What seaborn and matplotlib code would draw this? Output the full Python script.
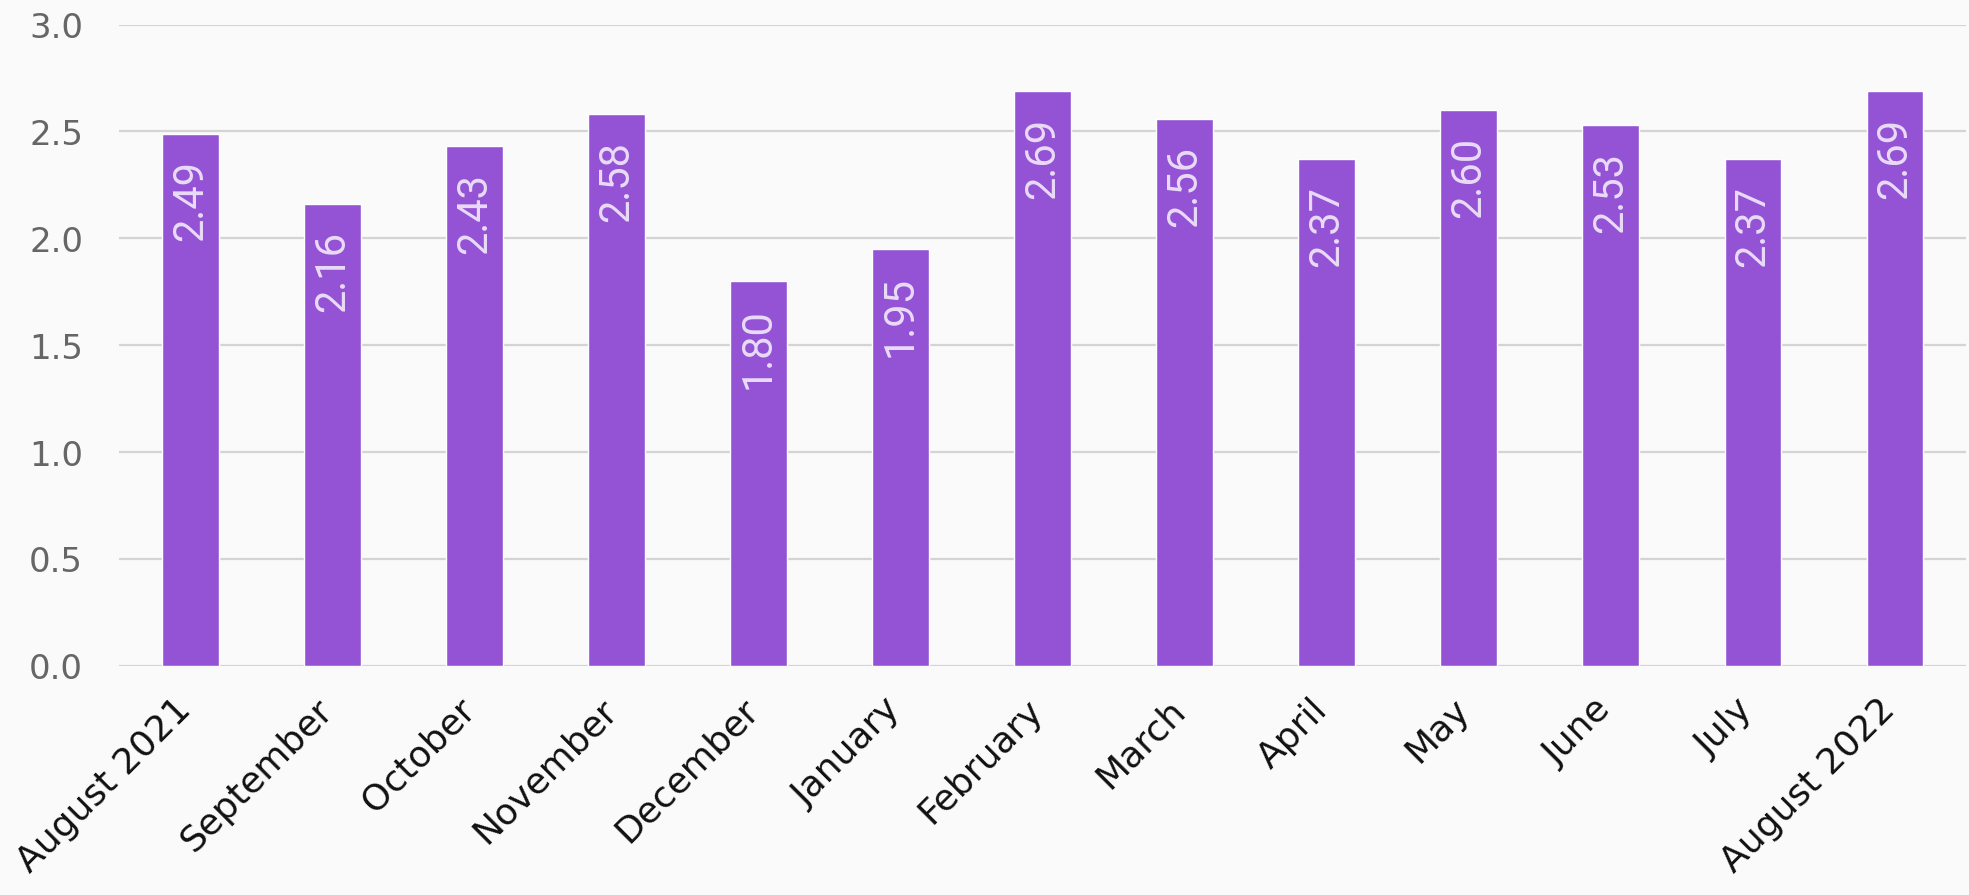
import matplotlib
matplotlib.use("Agg")
import matplotlib.pyplot as plt
from matplotlib.transforms import ScaledTranslation
import seaborn as sns
import pandas as pd

months = ["August 2021", "September", "October", "November", "December", "January",
          "February", "March", "April", "May", "June", "July", "August 2022"]
values = [2.49, 2.16, 2.43, 2.58, 1.80, 1.95, 2.69, 2.56, 2.37, 2.60, 2.53, 2.37, 2.69]
value_labels = ["2.49", "2.16", "2.43", "2.58", "1.80", "1.95", "2.69", "2.56", "2.37",
                "2.60", "2.53", "2.37", "2.69"]
y_ticks = [0.0, 0.5, 1.0, 1.5, 2.0, 2.5, 3.0]

BAR = "#9453d5"
BG = "#fafafa"

sns.set_theme(style="white")
plt.rcParams["font.family"] = ["DejaVu Sans"]

df = pd.DataFrame({"month": months, "value": values})

fig = plt.figure(figsize=(19.69, 8.955), dpi=100, facecolor=BG)
ax = fig.add_axes([0.0605, 0.256, 0.938, 0.716])
ax.set_facecolor(BG)

sns.barplot(data=df, x="month", y="value", color=BAR, width=0.4, saturation=1,
            ax=ax, zorder=3)

ax.set_ylim(0, 3.0)
ax.set_xlim(-0.5, len(months) - 0.5)
ax.set_yticks(y_ticks)
ax.set_yticklabels([f"{t:.1f}" for t in y_ticks], fontsize=24.5, color="#666666")
ax.yaxis.grid(True, color="#d4d4d4", linewidth=1.6, zorder=0)
ax.set_axisbelow(True)
ax.tick_params(axis="y", length=0, pad=26)
ax.tick_params(axis="x", length=0, pad=19)
ax.set_xticks(range(len(months)))
ax.set_xticklabels(months, rotation=45, ha="right", fontsize=26, color="#111111")
shift = ScaledTranslation(7 / 100, 0, fig.dpi_scale_trans)
for lab in ax.get_xticklabels():
    lab.set_transform(lab.get_transform() + shift)
ax.set_xlabel("")
ax.set_ylabel("")
for s in ax.spines.values():
    s.set_visible(False)

for i, (v, lab) in enumerate(zip(values, value_labels)):
    ax.annotate(lab, xy=(i, v), xytext=(0, -19), textcoords="offset points",
                rotation=90, ha="center", va="top", fontsize=30,
                family=["Roboto", "DejaVu Sans"],
                color="#e9dcf7", zorder=4)

fig.savefig("out.png", dpi=100, facecolor=BG)
